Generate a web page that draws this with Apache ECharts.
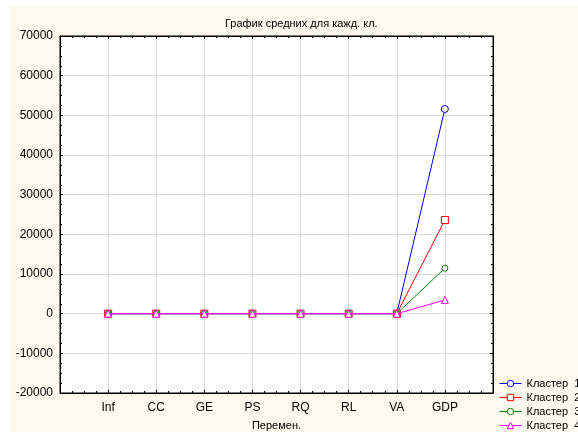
<!DOCTYPE html>
<html>
<head>
<meta charset="utf-8">
<script src="https://cdn.jsdelivr.net/npm/echarts@6/dist/echarts.min.js"></script>
<style>
html,body{margin:0;padding:0;background:#fff;}
#c{width:578px;height:432px;}
</style>
</head>
<body>
<div id="c"></div>
<script>
const categories = ['Inf', 'CC', 'GE', 'PS', 'RQ', 'RL', 'VA', 'GDP'];
const cluster1 = [2.1, 1.6, 1.5, 1.0, 1.4, 1.5, 1.2, 51600];
const cluster2 = [4.3, 0.6, 0.7, 0.5, 0.8, 0.6, 0.7, 23600];
const cluster3 = [6.8, -0.2, 0.0, 0.1, 0.2, -0.1, 0.2, 11450];
const cluster4 = [9.5, -0.8, -0.7, -0.6, -0.6, -0.8, -0.7, 3450];
const seriesNames = ['Кластер  1', 'Кластер  2', 'Кластер  3', 'Кластер  4'];
const yTicks = [-20000, -10000, 0, 10000, 20000, 30000, 40000, 50000, 60000, 70000];

const seriesValues = [cluster1, cluster2, cluster3, cluster4];
const colors = ['#0000ff', '#ff0000', '#008000', '#ff00ff'];
const symbols = ['circle', 'rect', 'circle', 'triangle'];
const symbolSizes = [7, 7, 6, 7];

const chart = echarts.init(document.getElementById('c'), null, {renderer: 'canvas'});
const font = 'Liberation Sans, Arial, sans-serif';

const xBase = {
  type: 'value', min: 0, max: categories.length + 1, interval: 1,
  splitLine: {show: false},
  axisLine: {show: true, onZero: false, lineStyle: {color: '#000', width: 1}},
  axisTick: {show: true, inside: true, length: 3, lineStyle: {color: '#000'}},
  minorTick: {show: true, splitNumber: 4, length: 2, lineStyle: {color: '#000'}},
  minorSplitLine: {show: false}
};
const yBase = {
  type: 'value', min: yTicks[0], max: yTicks[yTicks.length - 1], interval: yTicks[1] - yTicks[0],
  axisLine: {show: true, onZero: false, lineStyle: {color: '#000', width: 1}},
  axisTick: {show: true, inside: true, length: 3, lineStyle: {color: '#000'}},
  minorTick: {show: true, splitNumber: 4, length: 2, lineStyle: {color: '#000'}},
  minorSplitLine: {show: false}
};

const option = {
  backgroundColor: '#ffffff',
  animation: false,
  graphic: [{
    type: 'rect', z: -100, silent: true,
    shape: {x: 10, y: 6, width: 568, height: 426},
    style: {fill: '#fdf9ee'}
  }],
  title: {
    text: 'График средних для кажд. кл.',
    left: 220, top: 13,
    textStyle: {fontFamily: font, fontSize: 11, fontWeight: 'normal', color: '#000'}
  },
  grid: {
    left: 60, top: 36, right: 85, bottom: 39,
    show: true, backgroundColor: '#ffffff', borderColor: '#000', borderWidth: 1,
    containLabel: false, outerBoundsMode: 'none'
  },
  legend: {
    orient: 'vertical', left: 497, top: 377, itemGap: 3,
    itemWidth: 22, itemHeight: 8,
    textStyle: {fontFamily: font, fontSize: 11, color: '#000'},
    itemStyle: {borderWidth: 1},
    lineStyle: {width: 1},
    backgroundColor: '#fdf9ee', padding: [1, 2, 1, 2],
    data: seriesNames
  },
  xAxis: [
    Object.assign({}, xBase, {
      position: 'bottom',
      name: 'Перемен.', nameLocation: 'middle', nameGap: 27,
      nameTextStyle: {fontFamily: font, fontSize: 11, color: '#000'},
      splitLine: {show: true, lineStyle: {color: '#dcdcdc', width: 1}},
      axisLabel: {
        show: true, margin: 9, fontFamily: font, fontSize: 12, color: '#000',
        formatter: function (v) { return categories[v - 1] || ''; }
      }
    }),
    Object.assign({}, xBase, {position: 'top', axisLabel: {show: false}})
  ],
  yAxis: [
    Object.assign({}, yBase, {
      position: 'left',
      splitLine: {show: true, lineStyle: {color: '#dcdcdc', width: 1}},
      axisLabel: {show: true, margin: 7, fontFamily: font, fontSize: 12, color: '#000',
        formatter: function (v) { return String(v); }}
    }),
    Object.assign({}, yBase, {position: 'right', splitLine: {show: false}, axisLabel: {show: false}})
  ],
  series: seriesValues.map(function (vals, k) {
    return {
      name: seriesNames[k],
      type: 'line',
      xAxisIndex: 0, yAxisIndex: 0,
      data: vals.map(function (v, i) { return [i + 1, v]; }),
      symbol: symbols[k],
      symbolSize: symbolSizes[k],
      showAllSymbol: true,
      color: colors[k],
      lineStyle: {color: colors[k], width: 1},
      itemStyle: {color: '#ffffff', borderColor: colors[k], borderWidth: 1},
      z: 2 + k
    };
  })
};
chart.setOption(option);
</script>
</body>
</html>
